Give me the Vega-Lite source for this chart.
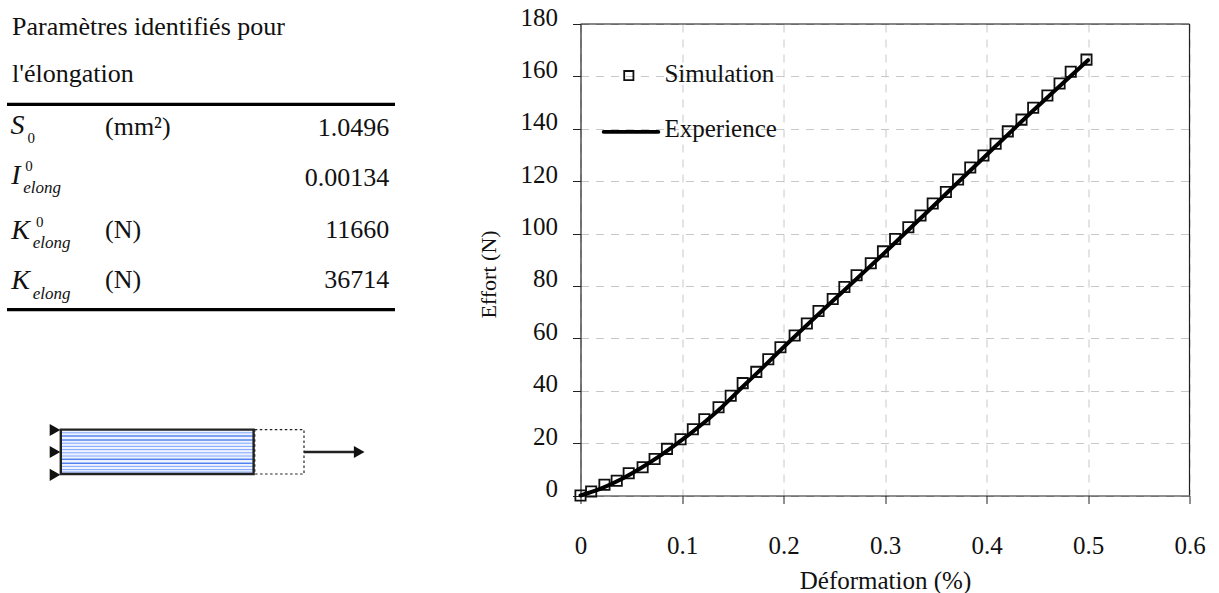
{
"$schema":"https://vega.github.io/schema/vega-lite/v6.json",
"padding":{"left":0,"top":5,"right":0,"bottom":0},
"background":"white",
"bounds":"flush",
"spacing":180.5,
"config":{"view":{"stroke":null},"font":"Liberation Serif","text":{"font":"Liberation Serif"}},
"hconcat":[
{"width":400,"height":569,
"encoding":{
"x":{"type":"quantitative","scale":{"domain":[0,100],"nice":false,"zero":false},"axis":null},
"y":{"type":"quantitative","scale":{"domain":[142.25,0],"nice":false,"zero":false},"axis":null}},
"layer":[
{"data":{"values":[
{"x":3,"y":0.75,"t":"Paramètres identifiés pour"},
{"x":3,"y":12.5,"t":"l'élongation"},
{"x":26.25,"y":25.7,"t":"(mm²)"},
{"x":26.25,"y":51.5,"t":"(N)"},
{"x":26.25,"y":64,"t":"(N)"}
]},
"mark":{"type":"text","align":"left","baseline":"middle","fontSize":26,"font":"Liberation Serif","color":"#111"},
"encoding":{"x":{"field":"x"},"y":{"field":"y"},"text":{"field":"t"}}},
{"data":{"values":[
{"x":97.3,"y":26,"t":"1.0496"},
{"x":97.3,"y":38.5,"t":"0.00134"},
{"x":97.3,"y":51.5,"t":"11660"},
{"x":97.3,"y":64,"t":"36714"}
]},
"mark":{"type":"text","align":"right","baseline":"middle","fontSize":26,"font":"Liberation Serif","color":"#111"},
"encoding":{"x":{"field":"x"},"y":{"field":"y"},"text":{"field":"t"}}},
{"data":{"values":[
{"x":2.6,"y":25.5,"t":"S"},
{"x":2.8,"y":38,"t":"I"},
{"x":2.8,"y":51.7,"t":"K"},
{"x":2.8,"y":64.2,"t":"K"}
]},
"mark":{"type":"text","align":"left","baseline":"middle","fontSize":28,"fontStyle":"italic","font":"Liberation Serif","color":"#111"},
"encoding":{"x":{"field":"x"},"y":{"field":"y"},"text":{"field":"t"}}},
{"data":{"values":[
{"x":5.8,"y":41,"t":"elong"},
{"x":8.2,"y":54.75,"t":"elong"},
{"x":8.2,"y":67.5,"t":"elong"}
]},
"mark":{"type":"text","align":"left","baseline":"middle","fontSize":17,"fontStyle":"italic","font":"Liberation Serif","color":"#111"},
"encoding":{"x":{"field":"x"},"y":{"field":"y"},"text":{"field":"t"}}},
{"data":{"values":[
{"x":6.9,"y":28.5,"t":"0"},
{"x":6.3,"y":35.5,"t":"0"},
{"x":9,"y":49.5,"t":"0"}
]},
"mark":{"type":"text","align":"left","baseline":"middle","fontSize":15,"font":"Liberation Serif","color":"#111"},
"encoding":{"x":{"field":"x"},"y":{"field":"y"},"text":{"field":"t"}}},
{"data":{"values":[
{"x":1.75,"x2":98.75,"y":20.1},
{"x":1.75,"x2":98.75,"y":71.4}
]},
"mark":{"type":"rule","strokeWidth":3.2,"color":"#000"},
"encoding":{"x":{"field":"x"},"x2":{"field":"x2"},"y":{"field":"y"}}},
{"data":{"values":[{"x":15.2,"x2":63.2,"y":101.5,"y2":112.5}]},
"mark":{"type":"rect","fill":"#eef3ff","stroke":null},
"encoding":{"x":{"field":"x"},"x2":{"field":"x2"},"y":{"field":"y"},"y2":{"field":"y2"}}},
{"data":{"values":[
{"x":15.2,"x2":63.2,"y":102.2,"c":"m"},{"x":15.2,"x2":63.2,"y":103.0,"c":"d"},{"x":15.2,"x2":63.2,"y":104.0,"c":"d"},{"x":15.2,"x2":63.2,"y":104.8,"c":"m"},{"x":15.2,"x2":63.2,"y":105.6,"c":"m"},{"x":15.2,"x2":63.2,"y":106.4,"c":"m"},{"x":15.2,"x2":63.2,"y":107.2,"c":"m"},{"x":15.2,"x2":63.2,"y":108.0,"c":"m"},{"x":15.2,"x2":63.2,"y":108.8,"c":"d"},{"x":15.2,"x2":63.2,"y":109.8,"c":"d"},{"x":15.2,"x2":63.2,"y":110.6,"c":"m"},{"x":15.2,"x2":63.2,"y":111.4,"c":"m"},{"x":15.2,"x2":63.2,"y":112.0,"c":"m"}
]},
"mark":{"type":"rule","strokeWidth":1},
"encoding":{"x":{"field":"x"},"x2":{"field":"x2"},"y":{"field":"y"},
"color":{"field":"c","type":"nominal","legend":null,"scale":{"domain":["m","d"],"range":["#80a8ff","#0a50e8"]}}}},
{"data":{"values":[{"x":15.2,"x2":63.4,"y":101.4,"y2":112.5}]},
"mark":{"type":"rect","fill":null,"stroke":"#222","strokeWidth":2.4},
"encoding":{"x":{"field":"x"},"x2":{"field":"x2"},"y":{"field":"y"},"y2":{"field":"y2"}}},
{"data":{"values":[{"x":63.7,"x2":76,"y":101.4,"y2":112.5}]},
"mark":{"type":"rect","fill":null,"stroke":"#222","strokeWidth":1.2,"strokeDash":[2.5,2.5]},
"encoding":{"x":{"field":"x"},"x2":{"field":"x2"},"y":{"field":"y"},"y2":{"field":"y2"}}},
{"data":{"values":[{"x":76,"x2":89.5,"y":107}]},
"mark":{"type":"rule","strokeWidth":2.4,"color":"#222"},
"encoding":{"x":{"field":"x"},"x2":{"field":"x2"},"y":{"field":"y"}}},
{"data":{"values":[{"x":13.75,"y":101.5},{"x":13.75,"y":107},{"x":13.75,"y":112.7},{"x":89.8,"y":107}]},
"mark":{"type":"point","shape":"triangle-right","filled":true,"size":150,"color":"#111","opacity":1},
"encoding":{"x":{"field":"x"},"y":{"field":"y"}}}
]},
{"width":609,"height":471.5,
"layer":[
{"data":{"values":[{"e":0.0,"f":0}]},
"mark":{"type":"point","opacity":0},
"encoding":{
"x":{"field":"e","type":"quantitative","scale":{"domain":[0,0.6],"nice":false},
"axis":{"title":"Déformation (%)","values":[0,0.1,0.2,0.3,0.4,0.5,0.6],"format":"~g","grid":true,"gridColor":"#c8c8c8","gridDash":[8,7],"gridWidth":1,"domainColor":"#222","domainWidth":1.2,"tickColor":"#222","tickSize":8,"tickWidth":1,"labelFont":"Liberation Serif","labelFontSize":25,"labelColor":"#111","labelPadding":30,"labelFlush":false,"titleFont":"Liberation Serif","titleFontSize":25,"titleFontWeight":"normal","titleColor":"#111","titlePadding":10}},
"y":{"field":"f","type":"quantitative","scale":{"domain":[0,180],"nice":false},
"axis":{"title":"Effort (N)","values":[0,20,40,60,80,100,120,140,160,180],"grid":true,"gridColor":"#c8c8c8","gridDash":[8,7],"gridWidth":1,"domainColor":"#222","domainWidth":1.2,"tickColor":"#222","tickSize":8,"tickWidth":1,"labelFont":"Liberation Serif","labelFontSize":25,"labelColor":"#111","labelPadding":15,"labelOffset":-7,"labelFlush":false,"titleFont":"Liberation Serif","titleFontSize":22,"titleFontWeight":"normal","titleColor":"#111","titleX":-80,"titleY":250}}}},
{"data":{"values":[{"y":180}]},"mark":{"type":"rule","color":"#111","strokeWidth":1.2},"encoding":{"y":{"field":"y","type":"quantitative"}}},
{"data":{"values":[{"x":0.6}]},"mark":{"type":"rule","color":"#222","strokeWidth":1.2},"encoding":{"x":{"field":"x","type":"quantitative"}}},
{"data":{"values":[
{"e":0,"f":0},{"e":0.0105,"f":1.5},{"e":0.0236,"f":4.1},{"e":0.0357,"f":5.6},{"e":0.0475,"f":8.5},{"e":0.0612,"f":10.8},{"e":0.073,"f":13.9},{"e":0.0852,"f":17.8},{"e":0.0986,"f":21.5},{"e":0.1107,"f":25.3},{"e":0.122,"f":29.1},{"e":0.136,"f":33.7},{"e":0.148,"f":38.1},{"e":0.1598,"f":42.9},{"e":0.1732,"f":47.2},{"e":0.185,"f":52},{"e":0.197,"f":56.6},{"e":0.211,"f":61.1},{"e":0.223,"f":65.7},{"e":0.2345,"f":70.4},{"e":0.2485,"f":75},{"e":0.26,"f":79.6},{"e":0.272,"f":84.1},{"e":0.286,"f":88.7},{"e":0.298,"f":93.2},{"e":0.31,"f":97.9},{"e":0.323,"f":102.4},{"e":0.335,"f":106.9},{"e":0.347,"f":111.5},{"e":0.36,"f":115.9},{"e":0.372,"f":120.6},{"e":0.384,"f":125.2},{"e":0.397,"f":129.8},{"e":0.409,"f":134.3},{"e":0.421,"f":139},{"e":0.4345,"f":143.5},{"e":0.446,"f":148},{"e":0.46,"f":152.7},{"e":0.472,"f":157.3},{"e":0.483,"f":161.8},{"e":0.4985,"f":166.4}
]},
"mark":{"type":"point","shape":"square","size":105,"filled":false,"color":"#111","strokeWidth":1.8,"opacity":1},
"encoding":{"x":{"field":"e","type":"quantitative"},"y":{"field":"f","type":"quantitative"}}},
{"data":{"values":[
{"e":0,"f":0},{"e":0.02,"f":2.6},{"e":0.04,"f":6.2},{"e":0.06,"f":10.6},{"e":0.08,"f":15.6},{"e":0.1,"f":21.2},{"e":0.12,"f":27.3},{"e":0.14,"f":34},{"e":0.16,"f":41.6},{"e":0.18,"f":49},{"e":0.2,"f":56.6},{"e":0.25,"f":74.8},{"e":0.3,"f":92.8},{"e":0.35,"f":111.4},{"e":0.4,"f":130},{"e":0.45,"f":148.4},{"e":0.5,"f":166.2}
]},
"mark":{"type":"line","color":"#000","strokeWidth":4,"strokeCap":"round","interpolate":"monotone"},
"encoding":{"x":{"field":"e","type":"quantitative"},"y":{"field":"f","type":"quantitative"}}},
{"data":{"values":[{"e":0.0476,"f":160.3}]},
"mark":{"type":"point","shape":"square","size":85,"filled":false,"color":"#111","strokeWidth":1.8,"opacity":1},
"encoding":{"x":{"field":"e","type":"quantitative"},"y":{"field":"f","type":"quantitative"}}},
{"data":{"values":[{"e":0.0227,"e2":0.0768,"f":138.8}]},
"mark":{"type":"rule","color":"#000","strokeWidth":3.6,"strokeCap":"round"},
"encoding":{"x":{"field":"e","type":"quantitative"},"x2":{"field":"e2"},"y":{"field":"f","type":"quantitative"}}},
{"data":{"values":[{"e":0.0827,"f":161,"t":"Simulation"},{"e":0.0827,"f":139.8,"t":"Experience"}]},
"mark":{"type":"text","align":"left","baseline":"middle","fontSize":25,"font":"Liberation Serif","color":"#111"},
"encoding":{"x":{"field":"e","type":"quantitative"},"y":{"field":"f","type":"quantitative"},"text":{"field":"t"}}}
]}
]
}
